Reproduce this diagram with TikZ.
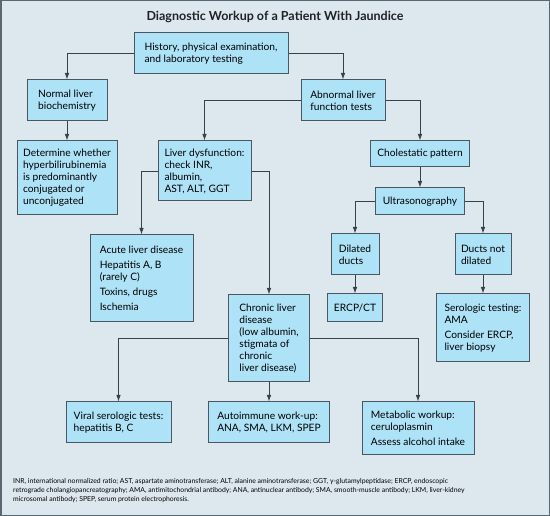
\documentclass[tikz,border=0pt]{standalone}
\usepackage{fontspec}
\setmainfont{Lato}
\usepackage{tikz}
\usetikzlibrary{arrows.meta}
\definecolor{bgpanel}{HTML}{DDE8EE}
\definecolor{boxfill}{HTML}{ADE2F7}
\definecolor{boxline}{HTML}{4A5660}
\definecolor{wireclr}{HTML}{3A4048}
\definecolor{framegray}{HTML}{5A6670}
\definecolor{titleink}{HTML}{1E2226}

\begin{document}
\begin{tikzpicture}[x=1pt,y=-1pt,font=\fontsize{10.2}{12}\selectfont,
  box/.style={draw=boxline,line width=1pt,fill=boxfill,align=left,inner xsep=6pt,inner ysep=2pt},
  wire/.style={-{Latex[length=6.5pt,width=4.5pt]},draw=wireclr,line width=0.8pt},
  ttl/.style={font=\fontsize{12.5}{14}\selectfont\bfseries,text=titleink},
  fnote/.style={font=\fontsize{6.85}{9}\selectfont,align=left,inner sep=0pt,anchor=north west}]
% panel and frame
\useasboundingbox (0,0) rectangle (550,516);
\draw[framegray,line width=1.5pt,fill=bgpanel] (0.75,0.75) rectangle (549.25,515.25);
\node[ttl] (title) at (275,17) {Diagnostic Workup of a Patient With Jaundice};
% first level
\node[box,minimum width=154pt,minimum height=41pt] (hist) at (211,53.5) {History, physical examination,\\and laboratory testing};
\node[box,minimum width=80pt,minimum height=41pt] (norm) at (67,100.5) {Normal liver\\biochemistry};
\node[box,minimum width=84pt,minimum height=41pt] (abn) at (343,100.5) {Abnormal liver\\function tests};
\draw[wire] (hist.west) -| (norm.north);
\draw[wire] (hist.east) -| (abn.north);
% normal branch
\node[box,minimum width=100pt,minimum height=74pt] (det) at (67,178) {Determine whether\\hyperbilirubinemia\\is predominantly\\conjugated or\\unconjugated};
\draw[wire] (norm.south) -- (det.north);
% abnormal branch
\node[box,minimum width=93pt,minimum height=60pt] (dys) at (204.5,171) {Liver dysfunction:\\check INR,\\albumin,\\AST, ALT, GGT};
\node[box,minimum width=99pt,minimum height=26pt] (chol) at (420,154) {Cholestatic pattern};
\draw[wire] (abn.west) -| (dys.north);
\draw[wire] (abn.east) -| (chol.north);
\node[box,minimum width=89pt,minimum height=27pt] (ultra) at (420,201.5) {Ultrasonography};
\draw[wire] (chol.south) -- (ultra.north);
\node[box,minimum width=48pt,minimum height=41pt] (dil) at (355,254.5) {Dilated\\ducts};
\node[box,minimum width=56pt,minimum height=41pt] (dnd) at (483,254.5) {Ducts not\\dilated};
\draw[wire] (ultra.west) -| (dil.north);
\draw[wire] (ultra.east) -| (dnd.north);
\node[box,minimum width=55pt,minimum height=28pt] (ercp) at (355,308) {ERCP/CT};
\node[box,minimum width=93pt,minimum height=68pt] (sero) at (483,328) {Serologic testing:\\AMA\\[3pt]Consider ERCP,\\liver biopsy};
\draw[wire] (dil.south) -- (ercp.north);
\draw[wire] (dnd.south) -- (sero.north);
% liver dysfunction
\node[box,minimum width=103pt,minimum height=87pt] (acute) at (141.5,278.5) {Acute liver disease\\[3pt]Hepatitis A, B\\(rarely C)\\[3pt]Toxins, drugs\\[3pt]Ischemia};
\node[box,minimum width=81pt,minimum height=87pt] (chron) at (269,338.5) {Chronic liver\\disease\\(low albumin,\\stigmata of\\chronic\\liver disease)};
\draw[wire] (dys.west) -| (acute.north);
\draw[wire] (dys.east) -| (chron.north);
% chronic work-up
\node[box,minimum width=105pt,minimum height=41pt] (viral) at (118.5,422.5) {Viral serologic tests:\\hepatitis B, C};
\node[box,minimum width=121pt,minimum height=41pt] (auto) at (269,422.5) {Autoimmune work-up:\\ANA, SMA, LKM, SPEP};
\node[box,minimum width=112pt,minimum height=53pt] (meta) at (418,428.5) {Metabolic workup:\\ceruloplasmin\\[3pt]Assess alcohol intake};
\draw[wire] (chron.west) -| (viral.north);
\draw[wire] (chron.south) -- (auto.north);
\draw[wire] (chron.east) -| (meta.north);
% abbreviations
\node[fnote] (abbr) at (13,478) {INR, international normalized ratio; AST, aspartate aminotransferase; ALT, alanine aminotransferase; GGT, γ-glutamylpeptidase; ERCP, endoscopic\\retrograde cholangiopancreatography; AMA, antimitochondrial antibody; ANA, antinuclear antibody; SMA, smooth-muscle antibody; LKM, liver-kidney\\microsomal antibody; SPEP, serum protein electrophoresis.};
\end{tikzpicture}
\end{document}
